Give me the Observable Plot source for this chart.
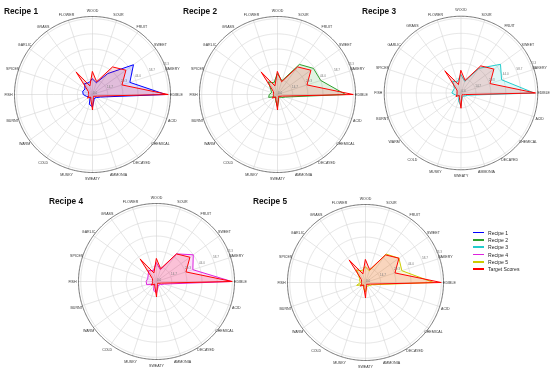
<!DOCTYPE html>
<html><head><meta charset="utf-8">
<script src="https://cdn.jsdelivr.net/npm/d3@7"></script>
<script src="https://cdn.jsdelivr.net/npm/@observablehq/plot@0.6"></script>
<style>
body{margin:0;background:#fff;font-family:"Liberation Sans",Arial,sans-serif;}
#root{position:relative;width:554px;height:392px;overflow:hidden;background:#fff;}
.panel{position:absolute;will-change:transform;}
.title{position:absolute;font-weight:bold;font-size:8.3px;line-height:8.3px;color:#111;white-space:nowrap;}
.legend{position:absolute;left:473px;top:229px;font-size:5.1px;color:#222;will-change:transform;}
.legend .row{display:flex;align-items:center;height:7.3px;white-space:nowrap;}
.legend .sw{display:inline-block;width:11px;height:1.5px;margin-right:4px;}
</style></head><body><div id="root"></div>
<script>
const categories = ["WOOD","SOUR","FRUIT","SWEET","BAKERY","EDIBLE","ACID","CHEMICAL","DECAYED","AMMONIA","SWEATY","MUSKY","COLD","WARM","BURNT","FISH","SPICES","GARLIC","GRASS","FLOWER"];
const target  = [22, 13, 33, 40, 30, 73.3, 5, 3, 2, 3, 15, 5, 3, 6, 4, 4, 4, 5, 27, 9];
const recipe1 = [15, 12, 25, 49, 38, 71, 8, 5, 4, 5, 12, 10, 4, 4, 6, 9, 10, 9, 13, 12];
const recipe2 = [20, 14, 36, 43, 44, 66, 8, 5, 3, 4, 12, 6, 3, 4, 9, 8, 6, 8, 15, 12];
const recipe3 = [18, 12, 30, 48, 42, 72, 7, 5, 4, 4, 13, 8, 3, 4, 6, 9, 8, 8, 14, 12];
const recipe4 = [18, 12, 33, 44, 37, 73, 8, 5, 4, 5, 11, 9, 4, 5, 10, 10, 9, 10, 13, 11];
const recipe5 = [15, 12, 34, 40, 37, 66, 7, 5, 4, 4, 9, 6, 3, 4, 9, 5, 6, 7, 15, 12];
const recipeNames = ["Recipe 1","Recipe 2","Recipe 3","Recipe 4","Recipe 5"];
const recipeColors = ["#0000ff","#2ea02e","#22cccc","#dd22dd","#cccc00"];
const targetName = "Target Scores";
const targetColor = "#ff0000";
const tickValues = [0, 14.67, 29.33, 44.0, 58.67, 73.33];
const tickLabels = ["0.0","14.7","29.3","44.0","58.7","73.3"];
const rMax = 75.5;

const recipes = [recipe1, recipe2, recipe3, recipe4, recipe5];
// layout (pixels)
const SIZE = 190, R_PX = 78;
const panels = [
  {cx: 92, cy: 94, tx: 4, ty: 7},
  {cx: 276.5, cy: 94, tx: 183, ty: 7},
  {cx: 462, cy: 94, tx: 362, ty: 7},
  {cx: 156, cy: 281, tx: 49, ty: 196.5},
  {cx: 365, cy: 282, tx: 253, ty: 196.5}
];
const N = categories.length;
const lon = i => 180 - i * 360 / N;
const D = (SIZE / 2) * rMax / R_PX;
const labelR = 84 * rMax / R_PX;
const rlabelLon = 90 + 22.5;

const root = document.getElementById("root");

function radarMarks(values, color) {
  const rows = categories.map((c, i) => ({i, v: values[i]}));
  return Plot.line(rows, {x: d => lon(d.i), y: d => 90 - d.v, curve: "linear-closed",
    stroke: color, strokeWidth: 1, fill: color, fillOpacity: 0.14, strokeLinejoin: "miter"});
}

recipes.forEach((vals, k) => {
  const p = panels[k];
  const chart = Plot.plot({
    width: SIZE, height: SIZE, margin: 0,
    style: {fontFamily: '"Liberation Sans", Arial, sans-serif', overflow: "visible", background: "transparent"},
    projection: {type: "azimuthal-equidistant", rotate: [0, -90], inset: 0,
      domain: {type: "MultiPoint", coordinates: [[0, 90 - D], [90, 90 - D], [180, 90 - D], [-90, 90 - D]]}},
    marks: [
      Plot.geo(tickValues.filter(v => v > 0), {geometry: v => d3.geoCircle().center([0, 90]).radius(v).precision(1)(), stroke: "#d4d4d4", strokeWidth: 0.6, fill: "none"}),
      Plot.link(categories, {x1: (c, i) => lon(i), y1: 90, x2: (c, i) => lon(i), y2: 90 - rMax, stroke: "#d4d4d4", strokeWidth: 0.6}),
      Plot.geo([rMax], {geometry: v => d3.geoCircle().center([0, 90]).radius(v).precision(1)(), stroke: "#555", strokeWidth: 0.8, fill: "none"}),
      radarMarks(vals, recipeColors[k]),
      radarMarks(target, targetColor),
      Plot.text(tickLabels, {x: rlabelLon, y: (t, i) => 90 - tickValues[i], text: d => d, fontSize: 3, fill: "#777", textAnchor: "start", dx: 0.5, dy: -1.5}),
      Plot.text(categories, {x: (c, i) => lon(i), y: 90 - labelR, text: d => d, fontSize: 3.6, fill: "#333", textAnchor: "middle"})
    ]
  });
  const div = document.createElement("div");
  div.className = "panel";
  div.style.left = (p.cx - SIZE / 2) + "px";
  div.style.top = (p.cy - SIZE / 2) + "px";
  div.appendChild(chart);
  root.appendChild(div);
  const t = document.createElement("div");
  t.className = "title";
  t.style.left = p.tx + "px";
  t.style.top = p.ty + "px";
  t.textContent = recipeNames[k];
  root.appendChild(t);
});

const legend = document.createElement("div");
legend.className = "legend";
const items = recipeNames.map((n, k) => [n, recipeColors[k]]).concat([[targetName, targetColor]]);
items.forEach(([n, c]) => {
  const row = document.createElement("div");
  row.className = "row";
  const sw = document.createElement("span");
  sw.className = "sw";
  sw.style.background = c;
  row.appendChild(sw);
  row.appendChild(document.createTextNode(n));
  legend.appendChild(row);
});
root.appendChild(legend);
</script></body></html>
